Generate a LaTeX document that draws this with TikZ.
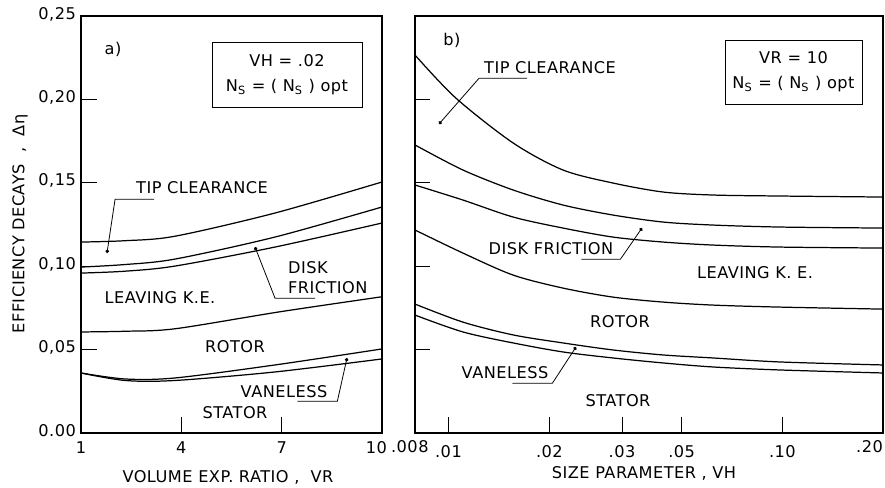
\documentclass[tikz,border=0pt]{standalone}
\usepackage{fontspec}
\setmainfont{DejaVu Sans}[LetterSpace=3]
\usetikzlibrary{arrows.meta}
\tikzset{
  frame/.style={line width=0.6pt},
  curve/.style={line width=0.7pt},
  tick/.style={line width=0.5pt},
  leader/.style={line width=0.45pt, -{Circle[length=2pt]}},
  lbl/.style={font=\fontsize{9.2}{10}\selectfont, inner sep=1pt},
  infobox/.style={draw, line width=0.5pt, align=center, inner sep=0pt,
    font=\fontsize{9.2}{14.2}\selectfont}
}
\newcommand{\Ns}{N\textsubscript{S}}
\begin{document}
\begin{tikzpicture}[x=0.02cm, y=-0.02cm]
\useasboundingbox (0,0) rectangle (885,487);

\draw[frame] (81,16) rectangle (382,433);
\draw[frame] (415,16) rectangle (883,433);

\foreach \v in {0.05,0.10,0.15,0.20} {
  \draw[tick] (81,{433-1668*\v}) -- ++(16,0);
  \draw[tick] (415,{433-1668*\v}) -- ++(15,0);
}
\foreach \v/\t [count=\i] in {0/{0.00},0.05/{0,05},0.10/{0,10},0.15/{0,15},0.20/{0,20},0.25/{0,25}}
  \node[lbl, anchor=east] (yt\i) at (78,{431-1668*\v}) {\t};

\foreach \r in {4,7}
  \draw[tick] ({81+33.44*(\r-1)},433) -- ++(0,-16);
\foreach \r in {1,4,7}
  \node[lbl] (xa\r) at ({81+33.44*(\r-1)},448) {\r};
\node[lbl, anchor=east] (xa10) at (389,448) {10};

\foreach \h/\t [count=\i] in {0.01/.01,0.02/.02,0.05/.05,0.1/.10}
  \draw[tick] ({415+334.8*(ln(\h)/ln(10)+2.0969)},433) -- ++(0,-16)
    node[lbl, pos=0, below=6pt] (xb\i) {\t};
\draw[tick] (622,433) -- ++(0,-16) node[lbl, pos=0, below=6pt] (xb5) {.03};
\node[lbl, anchor=west] (xb0) at (389,447) {.008};
\node[lbl, anchor=east] (xb6) at (885,447) {.20};

\node[lbl, rotate=90] (ylab) at (20,224) {EFFICIENCY DECAYS~~,~~Δη};
\node[lbl] (xlabA) at (228,477) {VOLUME EXP. RATIO ,~~VR};
\node[lbl] (xlabB) at (644,473) {SIZE PARAMETER ,~VH};

\begin{scope}[shift={(47.56,433)}, x=0.6688cm, y=33.36cm]
  \draw[curve] plot[smooth] coordinates {(1,0.1145) (2.3,0.1153) (3.81,0.1180) (6.8,0.1319) (10,0.1505)};
  \draw[curve] plot[smooth] coordinates {(1,0.0995) (2.3,0.1010) (3.81,0.1043) (6.8,0.1175) (10,0.1355)};
  \draw[curve] plot[smooth] coordinates {(1,0.0959) (2.3,0.0970) (3.81,0.1001) (6.8,0.1115) (10,0.1259)};
  \draw[curve] plot[smooth] coordinates {(1,0.0606) (2.3,0.0610) (3.81,0.0625) (6.95,0.0727) (10,0.0817)};
  \draw[curve] plot[smooth] coordinates {(1,0.0360) (2.32,0.0324) (3.81,0.0330) (6.8,0.0408) (10,0.0504)};
  \draw[curve] plot[smooth] coordinates {(1,0.0360) (2.32,0.0315) (3.81,0.0315) (6.8,0.0366) (10,0.0444)};
\end{scope}

\begin{scope}[shift={(1117,433)}, x=6.696cm, y=33.36cm]
  \draw[curve] plot[smooth] coordinates {(-2.097,0.2266) (-1.975,0.2008) (-1.804,0.1739) (-1.655,0.1577) (-1.506,0.1499) (-1.356,0.1445) (-1.207,0.1427) (-1.007,0.1421) (-0.699,0.1415)};
  \draw[curve] plot[smooth] coordinates {(-2.097,0.1727) (-1.954,0.1577) (-1.804,0.1457) (-1.655,0.1367) (-1.506,0.1307) (-1.356,0.1265) (-1.207,0.1247) (-1.007,0.1235) (-0.699,0.1229)};
  \draw[curve] plot[smooth] coordinates {(-2.097,0.1487) (-1.954,0.1397) (-1.804,0.1295) (-1.655,0.1229) (-1.506,0.1175) (-1.356,0.1145) (-1.207,0.1127) (-1.007,0.1115) (-0.699,0.1109)};
  \draw[curve] plot[smooth] coordinates {(-2.097,0.1217) (-1.954,0.1079) (-1.804,0.0947) (-1.655,0.0869) (-1.506,0.0815) (-1.356,0.0785) (-1.207,0.0767) (-1.007,0.0755) (-0.699,0.0743)};
  \draw[curve] plot[smooth] coordinates {(-2.097,0.0773) (-1.954,0.0665) (-1.804,0.0588) (-1.655,0.0540) (-1.506,0.0498) (-1.356,0.0468) (-1.207,0.0450) (-1.007,0.0426) (-0.699,0.0408)};
  \draw[curve] plot[smooth] coordinates {(-2.097,0.0707) (-1.954,0.0606) (-1.804,0.0540) (-1.655,0.0486) (-1.506,0.0450) (-1.356,0.0420) (-1.207,0.0396) (-1.007,0.0378) (-0.699,0.0360)};
\end{scope}

\node[lbl] (capA) at (113,49) {a)};
\node[infobox, minimum width=3cm, minimum height=1.3cm] (boxA) at (287,74.5) {VH = .02\\ \Ns{} = ( \Ns{} ) opt};
\node[lbl] (tipA) at (202,188) {TIP CLEARANCE};
\node[lbl] (leaveA) at (160,298) {LEAVING K.E.};
\node[lbl, align=left, anchor=west, font=\fontsize{9.2}{11.3}\selectfont] (diskA) at (286,278) {DISK\\FRICTION};
\node[lbl] (rotorA) at (235,347) {ROTOR};
\node[lbl] (vanA) at (284,392) {VANELESS};
\node[lbl] (statA) at (235,413) {STATOR};

\coordinate (tipAend) at (107,253);
\coordinate (diskAend) at (255,247);
\coordinate (vanAend) at (347,358);
\draw[leader] (tipA.south west) ++(20,3) -- ++(-39,0) -- (tipAend);
\draw[leader] (diskA.south west) ++(29,2) -- ++(-40,0) -- (diskAend);
\draw[leader] (vanA.south east) ++(-32,1) -- ++(40,0) -- (vanAend);

\node[lbl] (capB) at (452,40) {b)};
\node[infobox, minimum width=2.74cm, minimum height=1.28cm] (boxB) at (793.5,72) {VR = 10\\ \Ns{} = ( \Ns{} ) opt};
\node[lbl] (tipB) at (550,68) {TIP CLEARANCE};
\node[lbl] (diskB) at (551,249) {DISK FRICTION};
\node[lbl] (leaveB) at (755,273) {LEAVING K. E.};
\node[lbl] (rotorB) at (620,322) {ROTOR};
\node[lbl] (vanB) at (505,373) {VANELESS};
\node[lbl] (statB) at (618,401) {STATOR};

\coordinate (tipBend) at (439,124);
\coordinate (diskBend) at (642,228);
\coordinate (vanBend) at (576,347);
\draw[leader] (tipB.south west) ++(45,2) -- ++(-48,0) -- (tipBend);
\draw[leader] (diskB.south east) ++(-34,2) -- ++(39,0) -- (diskBend);
\draw[leader] (vanB.south east) ++(-38,2) -- ++(40,0) -- (vanBend);
\end{tikzpicture}
\end{document}
